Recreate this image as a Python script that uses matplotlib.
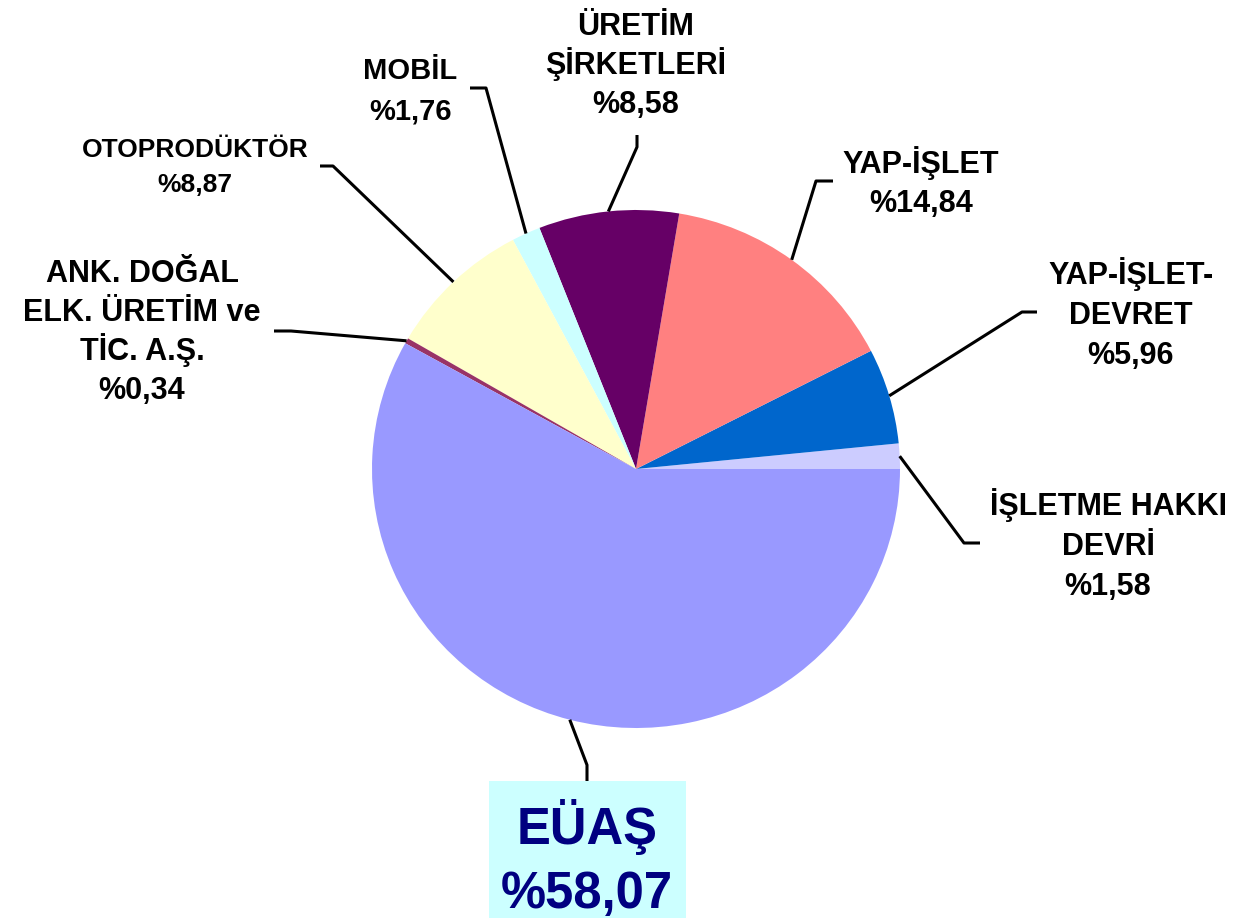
import matplotlib
matplotlib.use("Agg")
import matplotlib.pyplot as plt
from matplotlib.patches import Rectangle
import numpy as np

plt.rcParams['font.family'] = ['Liberation Sans', 'DejaVu Sans']

# dilimler, saat 3 yönünden başlayıp saat yönünün tersine
labels = ["İŞLETME HAKKI\nDEVRİ", "YAP-İŞLET-\nDEVRET", "YAP-İŞLET",
          "ÜRETİM\nŞİRKETLERİ", "MOBİL", "OTOPRODÜKTÖR",
          "ANK. DOĞAL\nELK. ÜRETİM ve\nTİC. A.Ş.", "EÜAŞ"]
shares = [1.58, 5.96, 14.84, 8.58, 1.76, 8.87, 0.34, 58.07]
colors = ["#CCCCFF", "#0066CC", "#FF8080", "#660066",
          "#CCFFFF", "#FFFFCC", "#993366", "#9999FF"]

# etiket yerleşimi (piksel): metin merkezi x, ilk satır büyük harf ortası y, satır aralığı, punto
text_pos = [(1108, 504, 40, 22), (1131, 273, 40, 22), (921, 162, 39, 22),
            (636, 24, 39, 22), (410, 69, 40, 21), (195, 148, 35, 19),
            (142, 271, 39, 22), (587, 826, 64, 36.5)]
# kılavuz çizgilerinin dirsek ve uç noktaları
elbows = [(964, 543), (1022, 312), (816, 181), (637, 147),
          (486, 88), (333, 166), (291, 331), (587, 765)]
ends = [(980, 543), (1037, 312), (833, 181), (637, 135),
        (470, 88), (320, 166), (274, 331), (587, 781)]

W, H = 1258, 918
fig = plt.figure(figsize=(W / 100, H / 100), dpi=100)
fig.patch.set_facecolor("white")

# pasta, hafif eliptik (528 x 518 px)
pax = fig.add_axes([372 / W, (H - 728) / H, 528 / W, 518 / H])
wedges, _ = pax.pie(shares, colors=colors, startangle=0, counterclock=True,
                    radius=1, wedgeprops=dict(linewidth=0))
pax.set_aspect("auto")
pax.set_xlim(-1, 1)
pax.set_ylim(-1, 1)
pax.axis("off")

ax = fig.add_axes([0, 0, 1, 1])
ax.set_xlim(0, W)
ax.set_ylim(H, 0)
ax.axis("off")
ax.patch.set_visible(False)

# EÜAŞ kutusu
ax.add_patch(Rectangle((489, 781), 197, 140, facecolor="#CCFFFF",
                       edgecolor="none", zorder=1))

to_ax = pax.transData + ax.transData.inverted()
for i, w in enumerate(wedges):
    mid = np.deg2rad((w.theta1 + w.theta2) / 2)
    sx, sy = to_ax.transform((np.cos(mid), np.sin(mid)))
    ex, ey = elbows[i]
    tx, ty = ends[i]
    ax.plot([sx, ex, tx], [sy, ey, ty], color="black", lw=2.2,
            solid_capstyle="butt", zorder=3)

    cx, cy, pitch, size = text_pos[i]
    pct = "%" + f"{shares[i]:.2f}".replace(".", ",")
    lines = labels[i].split("\n") + [pct]
    col = "#000080" if labels[i] == "EÜAŞ" else "black"
    half_cap = 0.358 * size * 100 / 72
    for k, line in enumerate(lines):
        ax.text(cx, cy + k * pitch + half_cap, line, ha="center", va="baseline",
                fontsize=size, fontweight="bold", color=col, zorder=4)

fig.savefig("out.png", dpi=100)
